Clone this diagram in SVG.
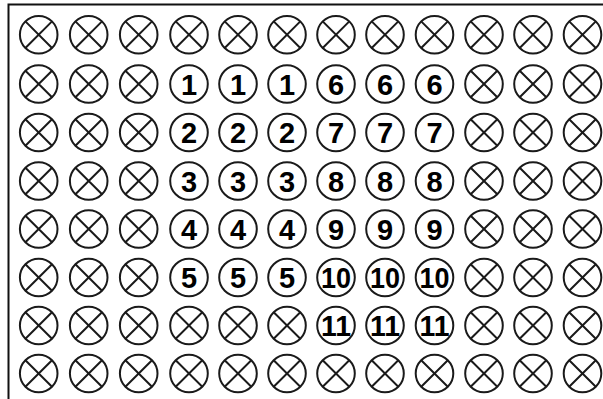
<svg xmlns="http://www.w3.org/2000/svg" xmlns:xlink="http://www.w3.org/1999/xlink" width="603" height="399" viewBox="0 0 603 399">
<style>
.ring{fill:#fff;stroke:#1a1a1a;stroke-width:2}
.cross{fill:none;stroke:#1a1a1a;stroke-width:2}
.num{font-family:"Liberation Sans",Arial,sans-serif;font-weight:bold;font-size:29px;fill:#000;text-anchor:middle}
.frame{fill:none;stroke:#111;stroke-width:2}
</style>
<defs>
<g id="xc"><circle class="ring" r="18.8"/><path class="cross" d="M-13.3,-13.3L13.3,13.3M13.3,-13.3L-13.3,13.3"/></g>
<circle id="oc" class="ring" r="18.8"/>
</defs>
<rect width="603" height="399" fill="#fff"/>
<g id="connectors"></g>
<path class="frame" d="M8.5,399V4.5H603"/>
<g id="row1">
<g id="n-r1c1"><use xlink:href="#xc" x="38.7" y="34.7"/></g>
<g id="n-r1c2"><use xlink:href="#xc" x="88.7" y="34.7"/></g>
<g id="n-r1c3"><use xlink:href="#xc" x="138.7" y="34.7"/></g>
<g id="n-r1c4"><use xlink:href="#xc" x="189" y="34.7"/></g>
<g id="n-r1c5"><use xlink:href="#xc" x="238" y="34.7"/></g>
<g id="n-r1c6"><use xlink:href="#xc" x="287" y="34.7"/></g>
<g id="n-r1c7"><use xlink:href="#xc" x="336" y="34.7"/></g>
<g id="n-r1c8"><use xlink:href="#xc" x="385" y="34.7"/></g>
<g id="n-r1c9"><use xlink:href="#xc" x="434.5" y="34.7"/></g>
<g id="n-r1c10"><use xlink:href="#xc" x="484" y="34.7"/></g>
<g id="n-r1c11"><use xlink:href="#xc" x="533" y="34.7"/></g>
<g id="n-r1c12"><use xlink:href="#xc" x="582.5" y="34.7"/></g>
</g>
<g id="row2">
<g id="n-r2c1"><use xlink:href="#xc" x="38.7" y="84"/></g>
<g id="n-r2c2"><use xlink:href="#xc" x="88.7" y="84"/></g>
<g id="n-r2c3"><use xlink:href="#xc" x="138.7" y="84"/></g>
<g id="n-r2c4"><use xlink:href="#oc" x="189" y="84"/><text class="num" x="189" y="94.5">1</text></g>
<g id="n-r2c5"><use xlink:href="#oc" x="238" y="84"/><text class="num" x="238" y="94.5">1</text></g>
<g id="n-r2c6"><use xlink:href="#oc" x="287" y="84"/><text class="num" x="287" y="94.5">1</text></g>
<g id="n-r2c7"><use xlink:href="#oc" x="336" y="84"/><text class="num" x="336" y="94.5">6</text></g>
<g id="n-r2c8"><use xlink:href="#oc" x="385" y="84"/><text class="num" x="385" y="94.5">6</text></g>
<g id="n-r2c9"><use xlink:href="#oc" x="434.5" y="84"/><text class="num" x="434.5" y="94.5">6</text></g>
<g id="n-r2c10"><use xlink:href="#xc" x="484" y="84"/></g>
<g id="n-r2c11"><use xlink:href="#xc" x="533" y="84"/></g>
<g id="n-r2c12"><use xlink:href="#xc" x="582.5" y="84"/></g>
</g>
<g id="row3">
<g id="n-r3c1"><use xlink:href="#xc" x="38.7" y="132.5"/></g>
<g id="n-r3c2"><use xlink:href="#xc" x="88.7" y="132.5"/></g>
<g id="n-r3c3"><use xlink:href="#xc" x="138.7" y="132.5"/></g>
<g id="n-r3c4"><use xlink:href="#oc" x="189" y="132.5"/><text class="num" x="189" y="143">2</text></g>
<g id="n-r3c5"><use xlink:href="#oc" x="238" y="132.5"/><text class="num" x="238" y="143">2</text></g>
<g id="n-r3c6"><use xlink:href="#oc" x="287" y="132.5"/><text class="num" x="287" y="143">2</text></g>
<g id="n-r3c7"><use xlink:href="#oc" x="336" y="132.5"/><text class="num" x="336" y="143">7</text></g>
<g id="n-r3c8"><use xlink:href="#oc" x="385" y="132.5"/><text class="num" x="385" y="143">7</text></g>
<g id="n-r3c9"><use xlink:href="#oc" x="434.5" y="132.5"/><text class="num" x="434.5" y="143">7</text></g>
<g id="n-r3c10"><use xlink:href="#xc" x="484" y="132.5"/></g>
<g id="n-r3c11"><use xlink:href="#xc" x="533" y="132.5"/></g>
<g id="n-r3c12"><use xlink:href="#xc" x="582.5" y="132.5"/></g>
</g>
<g id="row4">
<g id="n-r4c1"><use xlink:href="#xc" x="38.7" y="181"/></g>
<g id="n-r4c2"><use xlink:href="#xc" x="88.7" y="181"/></g>
<g id="n-r4c3"><use xlink:href="#xc" x="138.7" y="181"/></g>
<g id="n-r4c4"><use xlink:href="#oc" x="189" y="181"/><text class="num" x="189" y="191.5">3</text></g>
<g id="n-r4c5"><use xlink:href="#oc" x="238" y="181"/><text class="num" x="238" y="191.5">3</text></g>
<g id="n-r4c6"><use xlink:href="#oc" x="287" y="181"/><text class="num" x="287" y="191.5">3</text></g>
<g id="n-r4c7"><use xlink:href="#oc" x="336" y="181"/><text class="num" x="336" y="191.5">8</text></g>
<g id="n-r4c8"><use xlink:href="#oc" x="385" y="181"/><text class="num" x="385" y="191.5">8</text></g>
<g id="n-r4c9"><use xlink:href="#oc" x="434.5" y="181"/><text class="num" x="434.5" y="191.5">8</text></g>
<g id="n-r4c10"><use xlink:href="#xc" x="484" y="181"/></g>
<g id="n-r4c11"><use xlink:href="#xc" x="533" y="181"/></g>
<g id="n-r4c12"><use xlink:href="#xc" x="582.5" y="181"/></g>
</g>
<g id="row5">
<g id="n-r5c1"><use xlink:href="#xc" x="38.7" y="229"/></g>
<g id="n-r5c2"><use xlink:href="#xc" x="88.7" y="229"/></g>
<g id="n-r5c3"><use xlink:href="#xc" x="138.7" y="229"/></g>
<g id="n-r5c4"><use xlink:href="#oc" x="189" y="229"/><text class="num" x="189" y="239.5">4</text></g>
<g id="n-r5c5"><use xlink:href="#oc" x="238" y="229"/><text class="num" x="238" y="239.5">4</text></g>
<g id="n-r5c6"><use xlink:href="#oc" x="287" y="229"/><text class="num" x="287" y="239.5">4</text></g>
<g id="n-r5c7"><use xlink:href="#oc" x="336" y="229"/><text class="num" x="336" y="239.5">9</text></g>
<g id="n-r5c8"><use xlink:href="#oc" x="385" y="229"/><text class="num" x="385" y="239.5">9</text></g>
<g id="n-r5c9"><use xlink:href="#oc" x="434.5" y="229"/><text class="num" x="434.5" y="239.5">9</text></g>
<g id="n-r5c10"><use xlink:href="#xc" x="484" y="229"/></g>
<g id="n-r5c11"><use xlink:href="#xc" x="533" y="229"/></g>
<g id="n-r5c12"><use xlink:href="#xc" x="582.5" y="229"/></g>
</g>
<g id="row6">
<g id="n-r6c1"><use xlink:href="#xc" x="38.7" y="277.5"/></g>
<g id="n-r6c2"><use xlink:href="#xc" x="88.7" y="277.5"/></g>
<g id="n-r6c3"><use xlink:href="#xc" x="138.7" y="277.5"/></g>
<g id="n-r6c4"><use xlink:href="#oc" x="189" y="277.5"/><text class="num" x="189" y="288">5</text></g>
<g id="n-r6c5"><use xlink:href="#oc" x="238" y="277.5"/><text class="num" x="238" y="288">5</text></g>
<g id="n-r6c6"><use xlink:href="#oc" x="287" y="277.5"/><text class="num" x="287" y="288">5</text></g>
<g id="n-r6c7"><use xlink:href="#oc" x="336" y="277.5"/><text class="num" x="336" y="288" textLength="30" lengthAdjust="spacingAndGlyphs">10</text></g>
<g id="n-r6c8"><use xlink:href="#oc" x="385" y="277.5"/><text class="num" x="385" y="288" textLength="30" lengthAdjust="spacingAndGlyphs">10</text></g>
<g id="n-r6c9"><use xlink:href="#oc" x="434.5" y="277.5"/><text class="num" x="434.5" y="288" textLength="30" lengthAdjust="spacingAndGlyphs">10</text></g>
<g id="n-r6c10"><use xlink:href="#xc" x="484" y="277.5"/></g>
<g id="n-r6c11"><use xlink:href="#xc" x="533" y="277.5"/></g>
<g id="n-r6c12"><use xlink:href="#xc" x="582.5" y="277.5"/></g>
</g>
<g id="row7">
<g id="n-r7c1"><use xlink:href="#xc" x="38.7" y="325.5"/></g>
<g id="n-r7c2"><use xlink:href="#xc" x="88.7" y="325.5"/></g>
<g id="n-r7c3"><use xlink:href="#xc" x="138.7" y="325.5"/></g>
<g id="n-r7c4"><use xlink:href="#xc" x="189" y="325.5"/></g>
<g id="n-r7c5"><use xlink:href="#xc" x="238" y="325.5"/></g>
<g id="n-r7c6"><use xlink:href="#xc" x="287" y="325.5"/></g>
<g id="n-r7c7"><use xlink:href="#oc" x="336" y="325.5"/><text class="num" x="336" y="336" textLength="30" lengthAdjust="spacingAndGlyphs">11</text></g>
<g id="n-r7c8"><use xlink:href="#oc" x="385" y="325.5"/><text class="num" x="385" y="336" textLength="30" lengthAdjust="spacingAndGlyphs">11</text></g>
<g id="n-r7c9"><use xlink:href="#oc" x="434.5" y="325.5"/><text class="num" x="434.5" y="336" textLength="30" lengthAdjust="spacingAndGlyphs">11</text></g>
<g id="n-r7c10"><use xlink:href="#xc" x="484" y="325.5"/></g>
<g id="n-r7c11"><use xlink:href="#xc" x="533" y="325.5"/></g>
<g id="n-r7c12"><use xlink:href="#xc" x="582.5" y="325.5"/></g>
</g>
<g id="row8">
<g id="n-r8c1"><use xlink:href="#xc" x="38.7" y="373.5"/></g>
<g id="n-r8c2"><use xlink:href="#xc" x="88.7" y="373.5"/></g>
<g id="n-r8c3"><use xlink:href="#xc" x="138.7" y="373.5"/></g>
<g id="n-r8c4"><use xlink:href="#xc" x="189" y="373.5"/></g>
<g id="n-r8c5"><use xlink:href="#xc" x="238" y="373.5"/></g>
<g id="n-r8c6"><use xlink:href="#xc" x="287" y="373.5"/></g>
<g id="n-r8c7"><use xlink:href="#xc" x="336" y="373.5"/></g>
<g id="n-r8c8"><use xlink:href="#xc" x="385" y="373.5"/></g>
<g id="n-r8c9"><use xlink:href="#xc" x="434.5" y="373.5"/></g>
<g id="n-r8c10"><use xlink:href="#xc" x="484" y="373.5"/></g>
<g id="n-r8c11"><use xlink:href="#xc" x="533" y="373.5"/></g>
<g id="n-r8c12"><use xlink:href="#xc" x="582.5" y="373.5"/></g>
</g>
</svg>
